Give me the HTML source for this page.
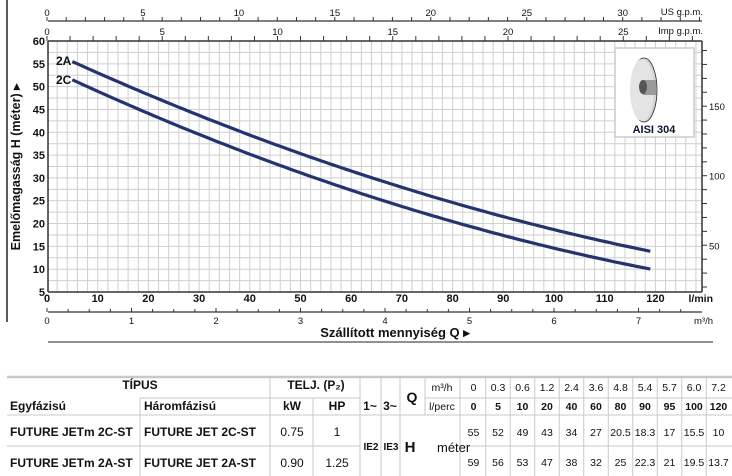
<!DOCTYPE html>
<html><head><meta charset="utf-8"><style>
html,body{margin:0;padding:0;background:#fff;width:732px;height:476px;overflow:hidden}
svg{display:block}
text{font-family:"Liberation Sans Narrow","Liberation Sans",sans-serif;fill:#111}
.b{font-weight:bold}
</style></head><body>
<svg width="732" height="476" viewBox="0 0 732 476" xmlns="http://www.w3.org/2000/svg">
<g id="grid" stroke="#cfcfcf" stroke-width="1"></g>
<line x1="7" y1="0" x2="7" y2="322" stroke="#000" stroke-width="1.3"/>
<line x1="48" y1="41" x2="702" y2="41" stroke="#333" stroke-width="1.5"/>
<line x1="48" y1="41" x2="48" y2="292" stroke="#333" stroke-width="1.5"/>
<line x1="48" y1="292" x2="702" y2="292" stroke="#333" stroke-width="1.5"/>
<line x1="702" y1="41" x2="702" y2="292" stroke="#333" stroke-width="1.5"/>
<g id="axes"></g>
<g id="curves"></g>
<text x="56" y="65" font-size="12" class="b">2A</text>
<text x="56" y="84" font-size="12" class="b">2C</text>
<rect x="615" y="48" width="79" height="89" fill="#fff" stroke="#cccccc" stroke-width="1.5"/>
<ellipse cx="644" cy="90" rx="13" ry="32" fill="#d4d4d4" stroke="#222" stroke-width="0.8"/>
<ellipse cx="642" cy="90" rx="12" ry="31" fill="#e4e4e4"/>
<rect x="643" y="80" width="13" height="15" fill="#9a9a9a"/>
<ellipse cx="643" cy="87" rx="4" ry="7" fill="#555"/>
<text x="654" y="133" font-size="11" class="b" text-anchor="middle" style="fill:#0c1530">AISI 304</text>
<text transform="translate(20,167) rotate(-90)" font-size="12.5" class="b" text-anchor="middle">Emelőmagasság H  (méter) ▸</text>
<text x="395" y="337" font-size="13" class="b" text-anchor="middle">Szállított mennyiség Q ▸</text>
<line x1="48" y1="342" x2="713" y2="342" stroke="#222" stroke-width="1"/>
<text x="703" y="15" font-size="9.5" text-anchor="end">US g.p.m.</text>
<text x="703" y="34" font-size="9.5" text-anchor="end">Imp g.p.m.</text>
<text x="713" y="302" font-size="10.5" class="b" text-anchor="end">l/min</text>
<text x="713" y="324" font-size="9.5" text-anchor="end">m³/h</text>
<g id="tbl" font-size="12"></g>
</svg>
<script>
var NS="http://www.w3.org/2000/svg";
function el(p,t,a,txt){var e=document.createElementNS(NS,t);for(var k in a)e.setAttribute(k,a[k]);if(txt!==undefined)e.textContent=txt;document.getElementById(p).appendChild(e);return e;}
for(var x=47+10.14;x<702;x+=10.14)el("grid","line",{x1:x,y1:41,x2:x,y2:292});
for(var y=41+11.41;y<292;y+=11.41)el("grid","line",{x1:48,y1:y,x2:702,y2:y});
var Y=function(h){return 41+(60-h)*4.5636};
var X=function(q){return 47+q*5.07};
function curve(a,b,c){var pts=[];for(var q=5;q<=119.01;q+=1){pts.push(X(q).toFixed(1)+","+Y(a+b*q+c*q*q).toFixed(1));}
 el("curves","polyline",{points:pts.join(" "),fill:"none",stroke:"#25336f","stroke-width":3.2,"stroke-linejoin":"round"});}
curve(58.04,-0.5147,0.00121);
curve(54.087,-0.5238,0.00129);
for(var h=5;h<=60;h+=5)el("axes","text",{x:45,y:Y(h)+4,"font-size":11,"class":"b","text-anchor":"end"},h);
for(var q=0;q<=120;q+=10)el("axes","text",{x:X(q),y:302,"font-size":11,"class":"b","text-anchor":"middle"},q);
for(var f=20;f<=190;f+=10){var yy=41+(60-f*0.3048)*4.5636;el("axes","line",{x1:702,y1:yy,x2:707,y2:yy,stroke:"#333"});
 if(f%50==0)el("axes","text",{x:709,y:yy+4,"font-size":9.5},f);}
el("axes","line",{x1:48,y1:21,x2:702,y2:21,stroke:"#333","stroke-width":1.2});
for(var g=0;g<=34;g++){var xx=47+g*19.19;el("axes","line",{x1:xx,y1:17,x2:xx,y2:21,stroke:"#333"});
 if(g%5==0)el("axes","text",{x:xx,y:16,"font-size":9.5,"text-anchor":"middle"},g);}
for(var g=0;g<=28;g++){var xx=47+g*23.05;el("axes","line",{x1:xx,y1:36,x2:xx,y2:41,stroke:"#333"});
 if(g%5==0)el("axes","text",{x:xx,y:35,"font-size":9.5,"text-anchor":"middle"},g);}
el("axes","line",{x1:48,y1:312,x2:702,y2:312,stroke:"#333","stroke-width":1.2});
for(var i=0;i<=30;i++){var m=i/4,xx=47+m*84.5;if(xx>703)break;el("axes","line",{x1:xx,y1:i%4==0?308:309,x2:xx,y2:312,stroke:"#333"});
 if(i%4==0)el("axes","text",{x:xx,y:324,"font-size":9.5,"text-anchor":"middle"},m);}
function L(x1,y1,x2,y2,w){el("tbl","line",{x1:x1,y1:y1,x2:x2,y2:y2,stroke:"#c8c8c8","stroke-width":w||1});}
function T(x,y,s,o){o=o||{};var a={x:x,y:y,"text-anchor":o.a||"middle"};if(o.b!==false)a["class"]="b";if(o.fs)a["font-size"]=o.fs;el("tbl","text",a,s);}
L(7,377,732,377,2.5);L(7,415,732,415);L(7,446,360,446);L(460,446,732,446);L(425,398,732,398);L(140,398,360,398);
L(140,398,140,476);L(270,377,270,476);L(313,398,313,476);L(360,377,360,476);L(381,377,381,476);L(400,377,400,476);
L(425,377,425,415);L(460,377,460,476);
var cx=[473.5,498,522.5,547,571.5,596,620.5,645,669.5,694,718.5];
for(var i=1;i<11;i++)L((cx[i-1]+cx[i])/2,377,(cx[i-1]+cx[i])/2,476);
T(140,389,"TÍPUS");T(316,389,"TELJ. (P₂)");
T(10,410,"Egyfázisú",{a:"start"});T(144,410,"Háromfázisú",{a:"start"});T(292,410,"kW");T(337,410,"HP");
T(370,410,"1~");T(390,410,"3~");T(412,402,"Q",{fs:14});
T(10,436,"FUTURE JETm 2C-ST",{a:"start"});T(144,436,"FUTURE JET 2C-ST",{a:"start"});T(292,436,"0.75",{b:false});T(337,436,"1",{b:false});
T(10,467,"FUTURE JETm 2A-ST",{a:"start"});T(144,467,"FUTURE JET 2A-ST",{a:"start"});T(292,467,"0.90",{b:false});T(337,467,"1.25",{b:false});
T(371,450,"IE2",{fs:10});T(391,450,"IE3",{fs:10});T(410,452,"H",{fs:15});T(437,452,"méter",{b:false,fs:13,a:"start"});
T(442,391,"m³/h",{b:false,fs:10.5});T(442,410,"l/perc",{b:false,fs:10.5});
var r1=["0","0.3","0.6","1.2","2.4","3.6","4.8","5.4","5.7","6.0","7.2"],r2=["0","5","10","20","40","60","80","90","95","100","120"],
r3=["55","52","49","43","34","27","20.5","18.3","17","15.5","10"],r4=["59","56","53","47","38","32","25","22.3","21","19.5","13.7"];
for(var i=0;i<11;i++){T(cx[i],391,r1[i],{b:false,fs:10.5});T(cx[i],410,r2[i],{fs:10.5});T(cx[i],436,r3[i],{b:false,fs:10.5});T(cx[i],466,r4[i],{b:false,fs:10.5});}
</script>
</body></html>
